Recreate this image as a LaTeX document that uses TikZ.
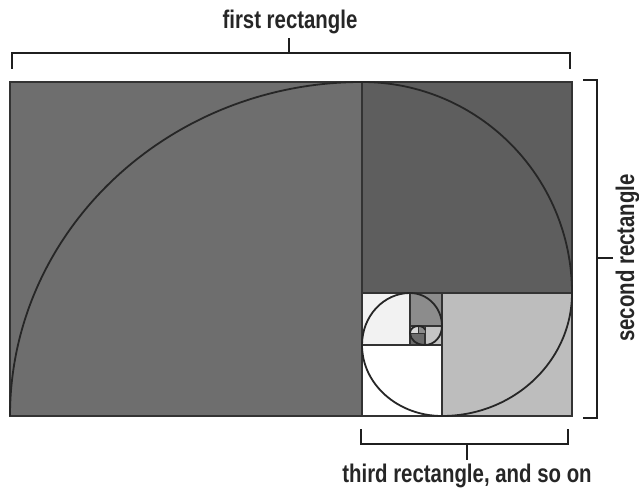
\documentclass[tikz,border=0pt]{standalone}
\usepackage{fontspec}
\setmainfont[FakeStretch=0.8]{Liberation Sans}
\begin{document}
\begin{tikzpicture}[x=1pt,y=1pt,
  sq/.style={draw=black!80,line width=1.2pt},
  brk/.style={draw=black!88,line width=1.9pt,line cap=butt,line join=miter},
  spiral/.style={draw=black!85,line width=1.8pt},
  lbl/.style={font=\fontsize{25.5}{30}\selectfont\bfseries,text=black!85,inner sep=0pt,anchor=base}]
\useasboundingbox (0,0) rectangle (639,487);
\fill[white] (0,0) rectangle (639,487);
\definecolor{cA}{gray}{0.43}
\definecolor{cB}{gray}{0.37}
\definecolor{cC}{gray}{0.74}
\definecolor{cD}{gray}{1.0}
\definecolor{cE}{gray}{0.95}
\definecolor{cF}{gray}{0.55}
\definecolor{cG}{gray}{0.77}
\definecolor{cH}{gray}{0.42}
\definecolor{cI}{gray}{0.85}
% squares
\path[sq,fill=cA] (10,71) rectangle (362,405);
\path[sq,fill=cB] (362,194) rectangle (572,405);
\path[sq,fill=cC] (442,71) rectangle (572,194);
\path[sq,fill=cD] (362,71) rectangle (442,142);
\path[sq,fill=cE] (362,142) rectangle (410,194);
\path[sq,fill=cF] (410,161) rectangle (442,194);
\path[sq,fill=cG] (425,142) rectangle (442,161);
\path[sq,fill=cH] (410,142) rectangle (425,154);
\path[sq,line width=0.8pt,fill=cI] (410,154) rectangle (418,161);
\path[sq,line width=0.8pt,fill=cF] (418,154) rectangle (425,161);
% outer border
\draw[draw=black!80,line width=1.6pt] (10,71) rectangle (572,405);
% spiral
\draw[spiral] (10,71)
  arc[start angle=180,end angle=90,x radius=352pt,y radius=334pt]
  arc[start angle=90,end angle=0,x radius=210pt,y radius=211pt]
  arc[start angle=0,end angle=-90,x radius=130pt,y radius=123pt]
  arc[start angle=270,end angle=180,x radius=80pt,y radius=71pt]
  arc[start angle=180,end angle=90,x radius=48pt,y radius=52pt]
  arc[start angle=90,end angle=0,x radius=32pt,y radius=33pt]
  arc[start angle=0,end angle=-90,x radius=17pt,y radius=19pt]
  arc[start angle=270,end angle=180,x radius=15pt,y radius=12pt]
  arc[start angle=180,end angle=90,x radius=8pt,y radius=7pt]
  arc[start angle=90,end angle=0,x radius=7pt,y radius=4pt];
% brackets
\coordinate (t1) at (12,418); \coordinate (t2) at (12,434);
\coordinate (t3) at (570,434); \coordinate (t4) at (570,418);
\coordinate (tm) at (289,434); \coordinate (tk) at (289,449);
\draw[brk] (t1) -- (t2) -- (t3) -- (t4);
\draw[brk] (tm) -- (tk);
\coordinate (r1) at (583,407); \coordinate (r2) at (597,407);
\coordinate (r3) at (597,69); \coordinate (r4) at (583,69);
\coordinate (rm) at (597,229); \coordinate (rk) at (613,229);
\draw[brk] (r1) -- (r2) -- (r3) -- (r4);
\draw[brk] (rm) -- (rk);
\coordinate (b1) at (361,58); \coordinate (b2) at (361,43);
\coordinate (b3) at (568,43); \coordinate (b4) at (568,58);
\coordinate (bm) at (467,43); \coordinate (bk) at (467,27);
\draw[brk] (b1) -- (b2) -- (b3) -- (b4);
\draw[brk] (bm) -- (bk);
% labels
\node[lbl] (first) at (290,458) {first rectangle};
\node[lbl,rotate=90] (second) at (634,229) {second rectangle};
\node[lbl] (third) at (467,5) {third rectangle, and so on};
\end{tikzpicture}
\end{document}
